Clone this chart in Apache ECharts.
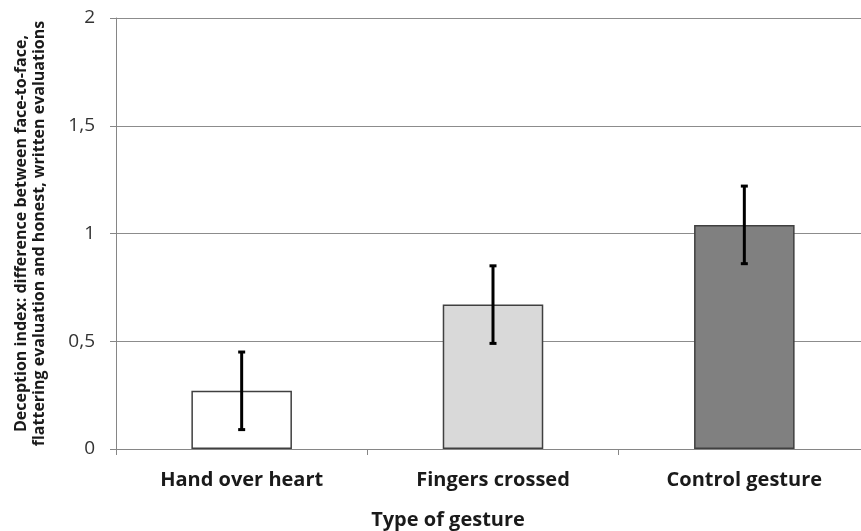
<!DOCTYPE html>
<html>
<head>
<meta charset="utf-8">
<script src="https://cdn.jsdelivr.net/npm/echarts@6/dist/echarts.min.js"></script>
<style>html,body{margin:0;padding:0;background:#fff;}#c{width:861px;height:531px;}</style>
</head>
<body>
<div id="c"></div>
<script>
var categories = ['Hand over heart', 'Fingers crossed', 'Control gesture'];
var values = [0.27, 0.67, 1.04];
var errLow = [0.09, 0.49, 0.86];
var errHigh = [0.45, 0.85, 1.22];
var barColors = ['#ffffff', '#d9d9d9', '#808080'];
var yTicks = [0, 0.5, 1, 1.5, 2];

var chart = echarts.init(document.getElementById('c'), null, {renderer: 'canvas'});
var font = '"Open Sans", "Liberation Sans", sans-serif';
chart.setOption({
  animation: false,
  grid: {left: 116, right: -9, top: 18, bottom: 82, containLabel: false, outerBoundsMode: 'none'},
  xAxis: {
    type: 'category',
    data: categories,
    axisLine: {lineStyle: {color: '#868686', width: 1}},
    axisTick: {show: true, length: 6, alignWithLabel: false, lineStyle: {color: '#868686'}},
    axisLabel: {margin: 21, color: '#1a1a1a', fontFamily: font, fontWeight: 'bold', fontSize: 20}
  },
  yAxis: {
    type: 'value',
    min: yTicks[0], max: yTicks[yTicks.length - 1], interval: 0.5,
    name: 'Deception index: difference between face-to-face,\nflattering evaluation and honest, written evaluations',
    nameLocation: 'middle', nameRotate: 90, nameGap: 68,
    nameTextStyle: {fontFamily: font, fontWeight: 'bold', fontSize: 16, color: '#1a1a1a', lineHeight: 18},
    axisLine: {show: true, lineStyle: {color: '#868686', width: 1}},
    axisTick: {show: true, length: 6, lineStyle: {color: '#868686'}},
    splitLine: {show: true, lineStyle: {color: '#8c8c8c', width: 1}},
    axisLabel: {margin: 21, color: '#333333', fontFamily: font, fontSize: 19,
      formatter: function (v) { return String(v).replace('.', ','); }}
  },
  graphic: [{
    type: 'text', x: 448, y: 520,
    style: {text: 'Type of gesture', fontFamily: font, fontWeight: 'bold', fontSize: 20, fill: '#1a1a1a',
      textAlign: 'center', textVerticalAlign: 'middle'}
  }],
  series: [{
    type: 'bar',
    barWidth: '40%',
    data: values.map(function (v, i) {
      return {value: v, itemStyle: {color: barColors[i], borderColor: '#404040', borderWidth: 1.5}};
    })
  }, {
    type: 'custom',
    data: categories.map(function (c, i) { return [i, errLow[i], errHigh[i]]; }),
    renderItem: function (params, api) {
      var lo = api.coord([api.value(0), api.value(1)]);
      var hi = api.coord([api.value(0), api.value(2)]);
      var x = lo[0], cw = 3.5;
      var st = {stroke: '#000', lineWidth: 3};
      return {type: 'group', children: [
        {type: 'line', shape: {x1: x, y1: lo[1], x2: x, y2: hi[1]}, style: st},
        {type: 'line', shape: {x1: x - cw, y1: lo[1], x2: x + cw, y2: lo[1]}, style: st},
        {type: 'line', shape: {x1: x - cw, y1: hi[1], x2: x + cw, y2: hi[1]}, style: st}
      ]};
    },
    z: 10
  }]
});
</script>
</body>
</html>
